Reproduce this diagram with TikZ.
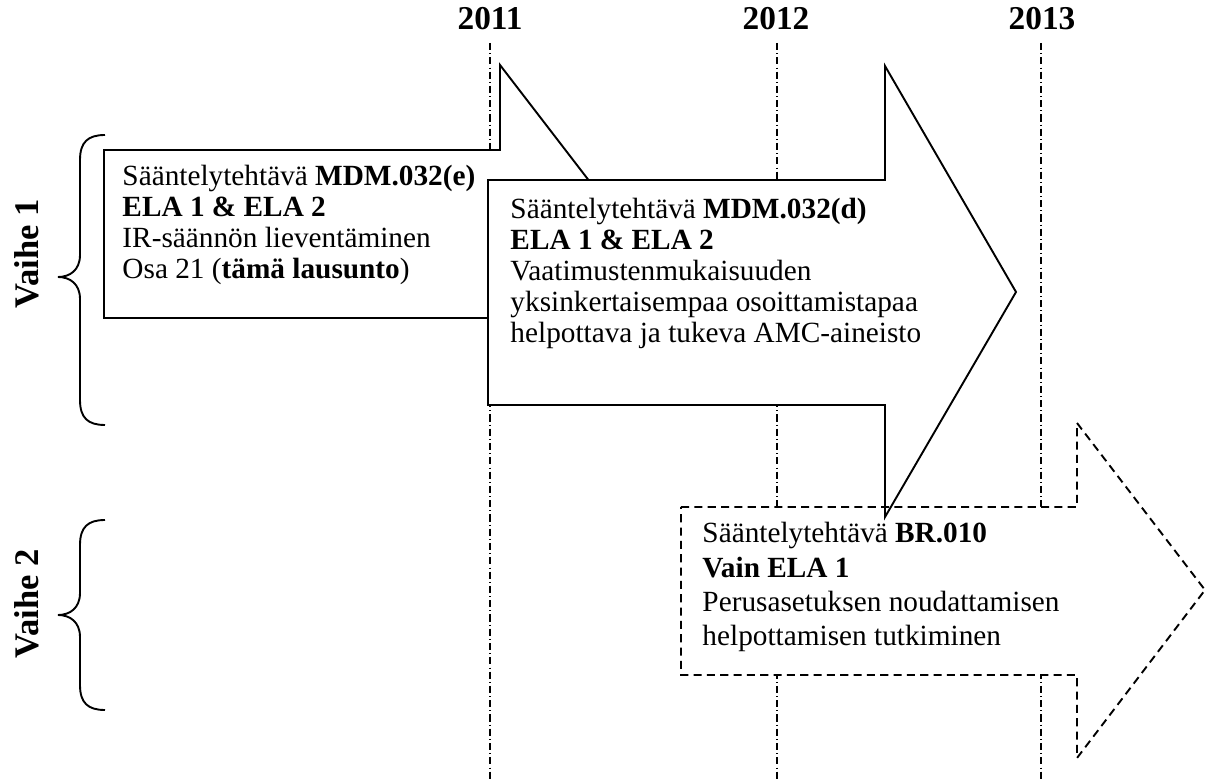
\documentclass[tikz,border=0pt]{standalone}
\usepackage{fontspec}
\setmainfont{Liberation Serif}
\begin{document}
\begin{tikzpicture}[x=0.42pt,y=-0.42pt,
  shape line/.style={line width=0.8pt,line join=miter},
  solidarrow/.style={shape line,fill=white,draw=black},
  dasharrow/.style={shape line,dash pattern=on 3.4pt off 2.2pt},
  yearline/.style={line width=0.5pt,dash pattern=on 3pt off 1.3pt on 0.4pt off 1.3pt},
  yearlabel/.style={anchor=base,inner sep=0pt,font=\fontsize{14}{16}\selectfont\bfseries},
  phaselabel/.style={rotate=90,inner sep=0pt,font=\fontsize{14.5}{16}\selectfont\bfseries},
  bracepath/.style={line width=0.8pt},
  boxtext/.style={anchor=base west,inner sep=0pt,font=\fontsize{12.3}{13}\selectfont}]
\useasboundingbox (0,0) rectangle (1207,780);

% year labels and timeline lines
\node[yearlabel] (y2011) at (490,30) {2011};
\node[yearlabel] (y2012) at (776,30) {2012};
\node[yearlabel] (y2013) at (1042,30) {2013};
\coordinate (l1t) at (490,43); \coordinate (l1b) at (490,780);
\coordinate (l2t) at (777,43); \coordinate (l2b) at (777,780);
\coordinate (l3t) at (1041,43); \coordinate (l3b) at (1041,780);
\draw[yearline] (l1t) -- (l1b);
\draw[yearline] (l2t) -- (l2b);
\draw[yearline] (l3t) -- (l3b);

% arrow 1
\draw[solidarrow] (104,150) -- (500,150) -- (500,65) -- (630,234) -- (500,403) -- (500,318) -- (104,318) -- cycle;
% arrow 3 fill
\fill[white] (681,507) -- (1077,507) -- (1077,423) -- (1205,590) -- (1077,758) -- (1077,675) -- (681,675) -- cycle;
% arrow 2
\draw[solidarrow] (488,180) -- (885,180) -- (885,66) -- (1016,292) -- (885,517) -- (885,405) -- (488,405) -- cycle;
% arrow 3 outline
\draw[dasharrow] (681,507) -- (1077,507) -- (1077,423) -- (1205,590) -- (1077,758) -- (1077,675) -- (681,675) -- cycle;

% texts
\node[boxtext] (t1) at (122,186) {\begin{tabular}[t]{@{}l@{}}S\"a\"antelyteht\"av\"a \textbf{MDM.032(e)}\\ \textbf{ELA 1 \& ELA 2}\\ IR-s\"a\"ann\"on lievent\"aminen\\ Osa 21 (\textbf{t\"am\"a lausunto})\end{tabular}};
\node[boxtext] (t2) at (510,219) {\begin{tabular}[t]{@{}l@{}}S\"a\"antelyteht\"av\"a \textbf{MDM.032(d)}\\ \textbf{ELA 1 \& ELA 2}\\ Vaatimustenmukaisuuden\\ yksinkertaisempaa osoittamistapaa\\ helpottava ja tukeva AMC-aineisto\end{tabular}};
\node[boxtext,font=\fontsize{12.3}{14.3}\selectfont] (t3) at (702,543) {\begin{tabular}[t]{@{}l@{}}S\"a\"antelyteht\"av\"a \textbf{BR.010}\\ \textbf{Vain ELA 1}\\ Perusasetuksen noudattamisen\\ helpottamisen tutkiminen\end{tabular}};

% braces and phase labels
\draw[bracepath] (105,135) .. controls (88,135) and (80,142) .. (80,160) -- (80,255) .. controls (80,270) and (70,277) .. (58,277) .. controls (70,277) and (80,284) .. (80,299) -- (80,400) .. controls (80,418) and (88,425) .. (105,425);
\draw[bracepath] (105,520) .. controls (88,520) and (80,527) .. (80,545) -- (80,593) .. controls (80,608) and (70,615) .. (58,615) .. controls (70,615) and (80,622) .. (80,637) -- (80,685) .. controls (80,703) and (88,710) .. (105,710);
\node[phaselabel] (v1) at (27,254) {Vaihe 1};
\node[phaselabel] (v2) at (27,604) {Vaihe 2};
\end{tikzpicture}
\end{document}
